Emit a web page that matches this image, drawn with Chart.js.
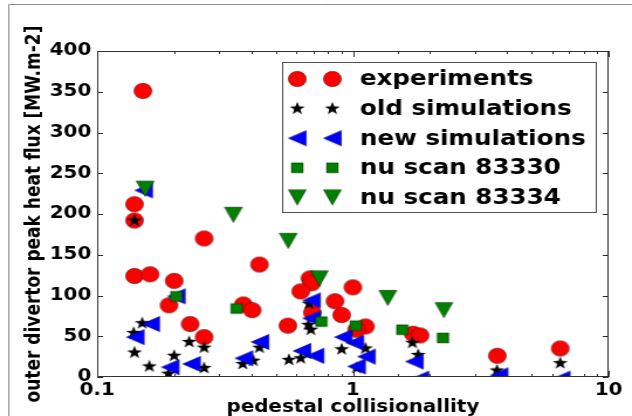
<!DOCTYPE html>
<html>
<head>
<meta charset="utf-8">
<script src="https://cdn.jsdelivr.net/npm/chart.js@4"></script>
<style>
  html, body { margin: 0; padding: 0; background: #fff; overflow: hidden; }
  /* the reference figure is stretched sideways, so draw narrow and let css widen it */
  #plot { display: block; width: 632px !important; height: 416px !important; }
</style>
</head>
<body>
<canvas id="plot" width="540" height="416" style="width:632px;height:416px"></canvas>
<script>
// experiments
const expX = [0.151, 0.140, 0.140, 0.140, 0.161, 0.262, 0.200, 0.431, 0.191, 0.373, 0.404, 0.231, 0.262, 0.557,
              0.679, 0.690, 0.625, 1.00, 0.851, 0.904, 0.694, 1.12, 1.034, 1.72, 1.83, 3.67, 6.47];
const expY = [351, 212, 192, 124, 126, 170, 118, 138, 88, 89, 82, 65, 49, 63,
              121, 115, 105, 110, 93, 76, 79, 62, 58, 53, 51, 26, 35];
// old simulations
const oldX = [0.140, 0.150, 0.139, 0.140, 0.160, 0.190, 0.200, 0.229, 0.262, 0.262, 0.371, 0.408, 0.431,
              0.562, 0.625, 0.685, 0.670, 0.674, 0.904, 1.12, 1.034, 1.71, 1.80, 3.66, 6.47];
const oldY = [192, 66, 54, 30, 13, 4, 26, 43, 36, 11, 16, 20, 36,
              21, 23, 58, 64, 90, 34, 35, 11, 42, 27, 8, 17];
// new simulations
const newX = [0.152, 0.204, 0.162, 0.141, 0.193, 0.234, 0.375, 0.433, 0.689, 0.689, 0.632, 0.711,
              0.917, 1.018, 1.13, 1.034, 1.74, 1.83, 3.73, 6.53];
const newY = [229, 99, 65, 49, 12, 16, 23, 43, 94, 72, 32, 26,
              49, 42, 25, 13, 19, -2, 2, -2];
// nu scan 83330
const scan30X = [0.204, 0.351, 0.753, 1.027, 1.56, 2.25];
const scan30Y = [99, 84, 68, 63, 58, 48];
// nu scan 83334
const scan34X = [0.154, 0.341, 0.559, 0.740, 1.37, 2.27];
const scan34Y = [231, 199, 167, 121, 97, 82];

const labels = ['experiments', 'old simulations', 'new simulations', 'nu scan 83330', 'nu scan 83334'];
const xTickVals = [0.1, 1, 10];
const xTickText = ['0.1', '1', '10'];

const FONT = '"DejaVu Sans", Verdana, sans-serif';

function pts(xs, ys) { return xs.map((x, i) => ({ x: x, y: ys[i] })); }

function marker(draw) {
  const cv = document.createElement('canvas');
  cv.width = 22; cv.height = 22;
  const g = cv.getContext('2d');
  g.translate(11, 11);
  draw(g);
  return cv;
}
function edge(g) { g.lineWidth = 0.7; g.strokeStyle = 'rgba(0,0,0,0.55)'; g.stroke(); }

const mCircle = marker(g => {
  g.beginPath(); g.arc(0, 0, 7.7, 0, Math.PI * 2);
  g.fillStyle = '#ff0000'; g.fill(); edge(g);
});
const mStar = marker(g => {
  g.beginPath();
  for (let i = 0; i < 10; i++) {
    const r = i % 2 ? 2.7 : 6.8;
    const a = -Math.PI / 2 + i * Math.PI / 5;
    g.lineTo(r * Math.cos(a), r * Math.sin(a));
  }
  g.closePath(); g.fillStyle = '#000'; g.fill();
});
const mLeft = marker(g => {
  g.beginPath(); g.moveTo(-7.7, 0); g.lineTo(7.7, -7.7); g.lineTo(7.7, 7.7); g.closePath();
  g.fillStyle = '#0000ff'; g.fill(); edge(g);
});
const mSquare = marker(g => {
  g.beginPath(); g.rect(-5, -5, 10, 10);
  g.fillStyle = '#007f00'; g.fill(); edge(g);
});
const mDown = marker(g => {
  g.beginPath(); g.moveTo(0, 7.7); g.lineTo(-7.7, -7.7); g.lineTo(7.7, -7.7); g.closePath();
  g.fillStyle = '#007f00'; g.fill(); edge(g);
});
const markers = [mCircle, mStar, mLeft, mSquare, mDown];

function isDecade(v) {
  const l = Math.log10(v);
  return Math.abs(l - Math.round(l)) < 1e-6;
}

// axes box, inward ticks, outer frame and legend
const decor = {
  id: 'decor',
  beforeDraw(chart) {
    const c = chart.ctx;
    c.save();
    c.strokeStyle = '#8c8c8c'; c.lineWidth = 1;
    c.beginPath(); c.moveTo(7.5, 416); c.lineTo(7.5, 4.5); c.lineTo(540, 4.5); c.stroke();
    c.restore();
  },
  afterDatasetsDraw(chart) {
    const c = chart.ctx, a = chart.chartArea, xs = chart.scales.x, ys = chart.scales.y;
    c.save();
    c.strokeStyle = '#303030'; c.lineWidth = 1;
    c.strokeRect(a.left + 0.5, a.top + 0.5, a.right - a.left - 1, a.bottom - a.top - 1);
    c.beginPath();
    xs.ticks.forEach(t => {
      const px = Math.round(xs.getPixelForValue(t.value)) + 0.5;
      const len = isDecade(t.value) ? 6 : 3;
      c.moveTo(px, a.bottom); c.lineTo(px, a.bottom - len);
      c.moveTo(px, a.top); c.lineTo(px, a.top + len);
    });
    ys.ticks.forEach(t => {
      const py = Math.round(ys.getPixelForValue(t.value)) + 0.5;
      c.moveTo(a.left, py); c.lineTo(a.left + 5, py);
      c.moveTo(a.right, py); c.lineTo(a.right - 5, py);
    });
    c.stroke();
    c.restore();
  },
  afterDraw(chart) {
    const c = chart.ctx;
    const L = 241, T = 62, R = 510, B = 213;
    c.save();
    c.fillStyle = '#fff'; c.fillRect(L, T, R - L, B - T);
    c.strokeStyle = '#505050'; c.lineWidth = 1;
    c.strokeRect(L + 0.5, T + 0.5, R - L - 1, B - T - 1);
    c.font = 'bold 21px ' + FONT;
    c.fillStyle = '#000'; c.textBaseline = 'middle'; c.textAlign = 'left';
    labels.forEach((txt, i) => {
      const y = 79 + i * 29.6;
      c.drawImage(markers[i], 254 - 11, y - 11);
      c.drawImage(markers[i], 284 - 11, y - 11);
      c.fillText(txt, 307.5, y + 1);
    });
    c.restore();
  }
};

function ds(label, xs, ys, style, order) {
  return {
    label: label, data: pts(xs, ys), pointStyle: style, pointRadius: 10,
    showLine: false, clip: 0, order: order
  };
}

new Chart(document.getElementById('plot'), {
  type: 'scatter',
  data: {
    datasets: [
      ds(labels[0], expX, expY, mCircle, 5),
      ds(labels[1], oldX, oldY, mStar, 4),
      ds(labels[2], newX, newY, mLeft, 3),
      ds(labels[3], scan30X, scan30Y, mSquare, 2),
      ds(labels[4], scan34X, scan34Y, mDown, 1)
    ]
  },
  options: {
    responsive: false,
    animation: false,
    events: [],
    devicePixelRatio: 1,
    layout: { padding: { top: 51, right: 20, bottom: 0, left: 0 } },
    plugins: { legend: { display: false }, tooltip: { enabled: false } },
    scales: {
      x: {
        type: 'logarithmic', min: 0.1, max: 10,
        grid: { display: false, drawTicks: false },
        border: { display: false },
        afterFit: s => { s.height = 39; },
        ticks: {
          autoSkip: false, maxRotation: 0, padding: 3, color: '#000',
          font: { family: FONT, size: 17, weight: 'bold' },
          callback: v => {
            const i = xTickVals.findIndex(t => Math.abs(t - v) < 1e-6 * t);
            return i < 0 ? '' : xTickText[i];
          }
        },
        title: {
          display: true, text: 'pedestal collisionallity', color: '#000',
          font: { family: FONT, size: 17, weight: 'bold', lineHeight: 1 },
          padding: 0
        }
      },
      y: {
        min: 0, max: 400,
        grid: { display: false, drawTicks: false },
        border: { display: false },
        afterFit: s => { s.width = 83; },
        ticks: {
          stepSize: 50, padding: 5, color: '#000',
          font: { family: FONT, size: 17, weight: 'bold' }
        },
        title: {
          display: true, text: 'outer divertor peak heat flux [MW.m-2]', color: '#000',
          font: { family: FONT, size: 17, weight: 'bold', lineHeight: 1 },
          padding: { top: 21.5, bottom: 0 }
        }
      }
    }
  },
  plugins: [decor]
});
</script>
</body>
</html>
